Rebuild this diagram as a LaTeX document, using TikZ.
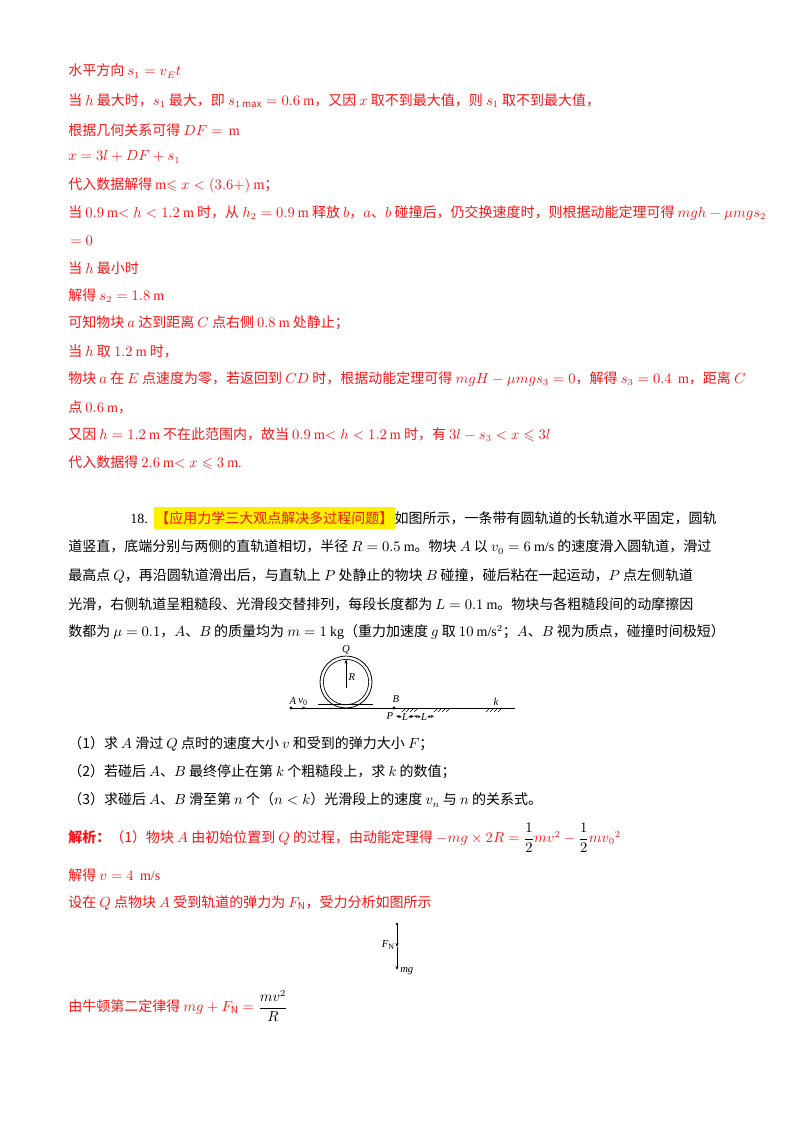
\documentclass[tikz,border=0pt]{standalone}
\usepackage{amsmath,amssymb}
\usepackage{fontspec}
\setmainfont{Noto Sans CJK SC}
\newfontfamily\tm{Liberation Serif}
\usetikzlibrary{arrows.meta,patterns}
\newcommand{\T}[1]{{\tm #1}}
\definecolor{rd}{RGB}{250,20,20}
\definecolor{hl}{RGB}{255,240,0}
\begin{document}
\begin{tikzpicture}[x=0.75pt,y=-0.75pt,
  t/.style={anchor=west,inner sep=0pt,font=\fontsize{10.5}{12}\selectfont},
  r/.style={t,text=rd},
  k/.style={t,text=black},
  fl/.style={font=\fontsize{8}{9}\selectfont\tm\itshape,inner sep=0pt}]
\useasboundingbox (0,0) rectangle (800,1132);
\fill[white] (0,0) rectangle (800,1132);
% upper solution
\node[r] (l1) at (68,71) {水平方向 $s_1=v_Et$};
\node[r] (l2) at (68,101) {当 $h$ 最大时，$s_1$ 最大，即 $s_{1\max}=0.6$ \T{m}，又因 $x$ 取不到最大值，则 $s_1$ 取不到最大值，};
\node[r] (l3) at (68,130) {根据几何关系可得 $DF=$ \ \T{m}};
\node[r] (l4) at (68,157) {$x=3l+DF+s_1$};
\node[r] (l5) at (68,185) {代入数据解得 \T{m}$\leqslant x<(3.6+)$ \T{m}；};
\node[r] (l6) at (68,213) {当 $0.9$ \T{m}$<h<1.2$ \T{m} 时，从 $h_2=0.9$ \T{m} 释放 $b$，$a$、$b$ 碰撞后，仍交换速度时，则根据动能定理可得 $mgh-\mu mgs_2$};
\node[r] (l7) at (70,241) {$=0$};
\node[r] (l8) at (68,268) {当 $h$ 最小时};
\node[r] (l9) at (68,296) {解得 $s_2=1.8$ \T{m}};
\node[r] (l10) at (68,323) {可知物块 $a$ 达到距离 $C$ 点右侧 $0.8$ \T{m} 处静止；};
\node[r] (l11) at (68,351) {当 $h$ 取 $1.2$ \T{m} 时，};
\node[r] (l12) at (68,379) {物块 $a$ 在 $E$ 点速度为零，若返回到 $CD$ 时，根据动能定理可得 $mgH-\mu mgs_3=0$，解得 $s_3=0.4$ \ \T{m}，距离 $C$};
\node[r] (l13) at (68,407) {点 $0.6$ \T{m}，};
\node[r] (l14) at (68,435) {又因 $h=1.2$ \T{m} 不在此范围内，故当 $0.9$ \T{m}$<h<1.2$ \T{m} 时，有 $3l-s_3<x\leqslant 3l$};
\node[r] (l15) at (68,463) {代入数据得 $2.6$ \T{m}$<x\leqslant 3$ \T{m.}};
% problem
\node[k] (p0) at (130,518) {\T{18.}\ \ \colorbox{hl}{\kern-2pt\textcolor{rd}{【应用力学三大观点解决多过程问题】}\kern-2pt}如图所示，一条带有圆轨道的长轨道水平固定，圆轨};
\node[k] (p1) at (68,547) {道竖直，底端分别与两侧的直轨道相切，半径 $R=0.5$ \T{m}。物块 $A$ 以 $v_0=6$ \T{m/s} 的速度滑入圆轨道，滑过};
\node[k] (p2) at (68,576) {最高点 $Q$，再沿圆轨道滑出后，与直轨上 $P$ 处静止的物块 $B$ 碰撞，碰后粘在一起运动，$P$ 点左侧轨道};
\node[k] (p3) at (68,604) {光滑，右侧轨道呈粗糙段、光滑段交替排列，每段长度都为 $L=0.1$ \T{m}。物块与各粗糙段间的动摩擦因};
\node[k] (p4) at (68,632) {数都为 $\mu=0.1$，$A$、$B$ 的质量均为 $m=1$ \T{kg}（重力加速度 $g$ 取 $10$ \T{m/s$^2$}；$A$、$B$ 视为质点，碰撞时间极短）};
% figure
\coordinate (g0) at (290,708); \coordinate (g1) at (515,708);
\draw[line width=0.6pt] (g0) -- (g1);
\draw[line width=0.5pt] (318,704) -- (373,704);
\node[draw,circle,minimum size=39pt,inner sep=0pt,line width=0.6pt] (co) at (346,682) {};
\node[draw,circle,minimum size=34pt,inner sep=0pt,line width=0.5pt] (ci) at (346,682) {};
\coordinate (top) at (346,659.5);
\draw[-{Stealth[length=3pt]},line width=0.4pt] (346,688) -- (top);
\node[fl] (Q) at (346,650) {Q};
\node[fl] (R) at (352,677) {R};
\node[fl] (A) at (293,701) {A};
\node[fl] (v0) at (303,702) {v\textsubscript{\upshape0}};
\fill (291,708) circle (1.3pt);
\draw[-{Stealth[length=3pt]},line width=0.4pt] (293,708) -- (306,708);
\node[fl] (B) at (396,699) {B};
\fill (394,708) circle (1.3pt);
\node[fl] (P) at (390,716) {P};
\node[fl] (L1) at (405,717) {L};
\node[fl] (L2) at (424,717) {L};
\node[fl] (kk) at (496,702) {k};
\draw[{Stealth[length=2.5pt]}-{Stealth[length=2.5pt]},line width=0.3pt] (396,716) -- (L1.west);
\draw[{Stealth[length=2.5pt]}-{Stealth[length=2.5pt]},line width=0.3pt] (L1.east) -- (414,716);
\draw[{Stealth[length=2.5pt]}-{Stealth[length=2.5pt]},line width=0.3pt] (414,716) -- (L2.west);
\draw[{Stealth[length=2.5pt]}-{Stealth[length=2.5pt]},line width=0.3pt] (L2.east) -- (434,716);
\foreach \a in {402,406,410,414,434,438,442,446,486,490,494,498}
  \draw[line width=0.4pt] (\a,712) -- (\a+4,708);
% questions
\node[k] (q1) at (68,744) {（1）求 $A$ 滑过 $Q$ 点时的速度大小 $v$ 和受到的弹力大小 $F$；};
\node[k] (q2) at (68,772) {（2）若碰后 $A$、$B$ 最终停止在第 $k$ 个粗糙段上，求 $k$ 的数值；};
\node[k] (q3) at (68,800) {（3）求碰后 $A$、$B$ 滑至第 $n$ 个（$n<k$）光滑段上的速度 $v_n$ 与 $n$ 的关系式。};
% answer
\node[r] (s1) at (68,838) {\textbf{解析：}（1）物块 $A$ 由初始位置到 $Q$ 的过程，由动能定理得 $-mg\times 2R=\textcolor{black}{\dfrac12}mv^2-\textcolor{black}{\dfrac12}mv_0{}^2$};
\node[r] (s2) at (68,875) {解得 $v=4$ \ \T{m/s}};
\node[r] (s3) at (68,903) {设在 $Q$ 点物块 $A$ 受到轨道的弹力为 $F_{\mathrm N}$，受力分析如图所示};
\coordinate (f0) at (397,924);
\coordinate (f1) at (397,947);
\coordinate (f2) at (397,970);
\fill (f0) circle (1pt);
\draw[-{Stealth[length=3pt]},line width=0.4pt] (f0) -- (f1);
\draw[-{Stealth[length=3pt]},line width=0.4pt] (f1) -- (f2);
\node[fl,anchor=east] (FN) at (395,945) {F\textsubscript{\upshape N}};
\node[fl,anchor=west] (mg) at (400,971) {mg};
\node[r] (s4) at (68,1006) {由牛顿第二定律得 $mg+F_{\mathrm N}=\textcolor{black}{\dfrac{mv^2}{R}}$};
\end{tikzpicture}
\end{document}
